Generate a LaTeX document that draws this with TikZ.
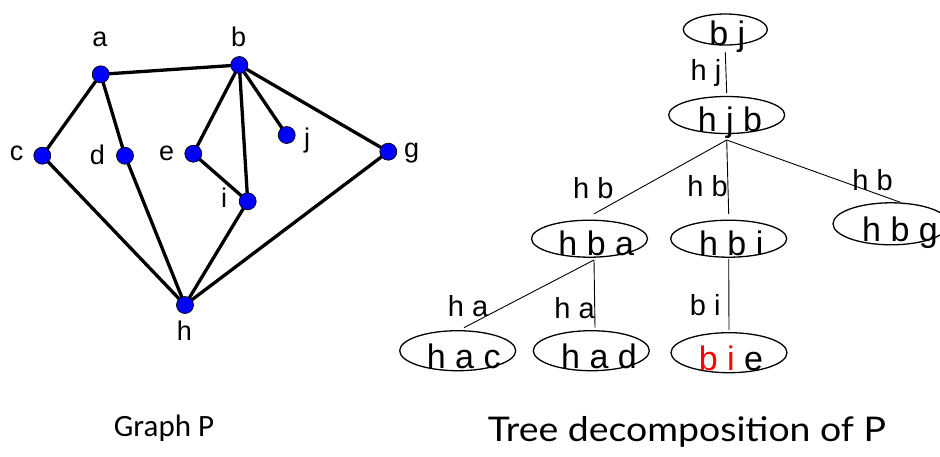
\documentclass[tikz,border=0pt]{standalone}
\usepackage{fontspec}
\setmainfont{Liberation Sans}
\newfontfamily\capafont{Carlito}
\newfontfamily\capbfont[FakeStretch=1.1]{Lato}
\usetikzlibrary{shapes.geometric,backgrounds}
\begin{document}
\begin{tikzpicture}[x=1pt,y=-1pt,
  vtx/.style={circle,fill=blue,draw=black,line width=0.7pt,minimum size=17pt,inner sep=0pt},
  gedge/.style={line width=3.3pt},
  vlab/.style={anchor=base,inner sep=0pt,font=\fontsize{27}{30}\selectfont},
  bag/.style={ellipse,draw,line width=1.3pt,minimum width=116pt,minimum height=39pt,inner sep=0pt},
  bagtext/.style={anchor=base,inner sep=0pt,font=\fontsize{34}{36}\selectfont},
  tedge/.style={line width=0.9pt},
  elab/.style={anchor=base,inner sep=0pt,font=\fontsize{29}{31}\selectfont},
]
\useasboundingbox (0,0) rectangle (940,456);
% ---------- Graph P ----------
\node[vtx] (a) at (100.7,74.3) {};
\node[vtx] (b) at (239.3,65) {};
\node[vtx] (c) at (42.3,155.7) {};
\node[vtx] (d) at (125,155.7) {};
\node[vtx] (e) at (193.3,153.7) {};
\node[vtx] (i) at (247.7,201.3) {};
\node[vtx] (j) at (286.7,135) {};
\node[vtx] (g) at (388.3,151.7) {};
\node[vtx] (h) at (185,305) {};
\begin{scope}[on background layer]
\draw[gedge] (a.center) -- (b.center);
\draw[gedge] (a.center) -- (c.center);
\draw[gedge] (a.center) -- (d.center);
\draw[gedge] (c.center) -- (h.center);
\draw[gedge] (d.center) -- (h.center);
\draw[gedge] (b.center) -- (e.center);
\draw[gedge] (e.center) -- (i.center);
\draw[gedge] (b.center) -- (i.center);
\draw[gedge] (b.center) -- (j.center);
\draw[gedge] (b.center) -- (g.center);
\draw[gedge] (i.center) -- (h.center);
\draw[gedge] (g.center) -- (h.center);
\end{scope}
\node[vlab] (la) at (100,46.7) {a};
\node[vlab] (lb) at (238.7,46.7) {b};
\node[vlab] (lc) at (16.7,160) {c};
\node[vlab] (ld) at (97.3,164) {d};
\node[vlab] (le) at (166.7,160) {e};
\node[vlab] (li) at (224,207) {i};
\node[vlab] (lj) at (307,147) {j};
\node[vlab] (lg) at (411.7,157) {g};
\node[vlab] (lh) at (184.3,340.7) {h};
\node[anchor=base,inner sep=0pt,font=\capafont\fontsize{31}{34}\selectfont] (capP) at (164,436.7) {Graph P};
% ---------- Tree decomposition ----------
\node[bag,minimum width=84pt,minimum height=31pt] (bj) at (725.3,29.5) {};
\node[bag,minimum height=37pt] (hjb) at (726.7,115) {};
\node[bag,minimum height=37pt] (hba) at (589.5,238.7) {};
\node[bag,minimum height=37pt] (hbi) at (728.7,238.7) {};
\node[bag,minimum height=42pt] (hbg) at (891,223.8) {};
\node[bag,minimum height=40pt] (hac) at (457.7,350.7) {};
\node[bag,minimum height=40pt] (had) at (591.3,350.7) {};
\node[bag,minimum height=40pt] (bie) at (729,352.7) {};
\node[bagtext] (tbj) at ([shift={(2,15.5)}]bj.center) {b j};
\node[bagtext] (thjb) at ([shift={(3.3,16.7)}]hjb.center) {h j b};
\node[bagtext] (thba) at ([shift={(6.8,16.3)}]hba.center) {h b a};
\node[bagtext] (thbi) at ([shift={(2.5,16.3)}]hbi.center) {h b i};
\node[bagtext] (thbg) at ([shift={(9,18)}]hbg.center) {h b g};
\node[bagtext] (thac) at ([shift={(6,17.6)}]hac.center) {h a c};
\node[bagtext] (thad) at ([shift={(7.7,17.6)}]had.center) {h a d};
\node[bagtext] (tbie) at ([shift={(2,17.3)}]bie.center) {\textcolor{red}{b i} e};
\coordinate (hjbroot) at (726.7,140);
\coordinate (hbaroot) at (594,260);
\draw[tedge] ([yshift=-6.7pt]bj.south) -- ([yshift=2.7pt]hjb.north);
\draw[tedge] (hjbroot) -- ([xshift=4.5pt,yshift=5.7pt]hba.north);
\draw[tedge] (hjbroot) -- ([yshift=5.7pt]hbi.north);
\draw[tedge] (hjbroot) -- ([xshift=9pt]hbg.north);
\draw[tedge] (hbaroot) -- ([xshift=6.3pt,yshift=2.4pt]hac.north);
\draw[tedge] (hbaroot) -- ([xshift=3.7pt,yshift=2.4pt]had.north);
\draw[tedge] ([yshift=-1pt]hbi.south) -- ([yshift=2pt]bie.north);
\node[elab] (lhj) at (706,80) {h j};
\node[elab] (lhb1) at (593.3,198.3) {h b};
\node[elab] (lhb2) at (707.5,196) {h b};
\node[elab] (lhb3) at (872.5,190) {h b};
\node[elab] (lha1) at (468,316) {h a};
\node[elab] (lha2) at (574.5,318) {h a};
\node[elab] (lbi) at (705.3,315) {b i};
\node[anchor=base,inner sep=0pt,font=\capbfont\fontsize{34}{38}\selectfont] (capT) at (687,441) {Tree decomposition of P};
\end{tikzpicture}
\end{document}
